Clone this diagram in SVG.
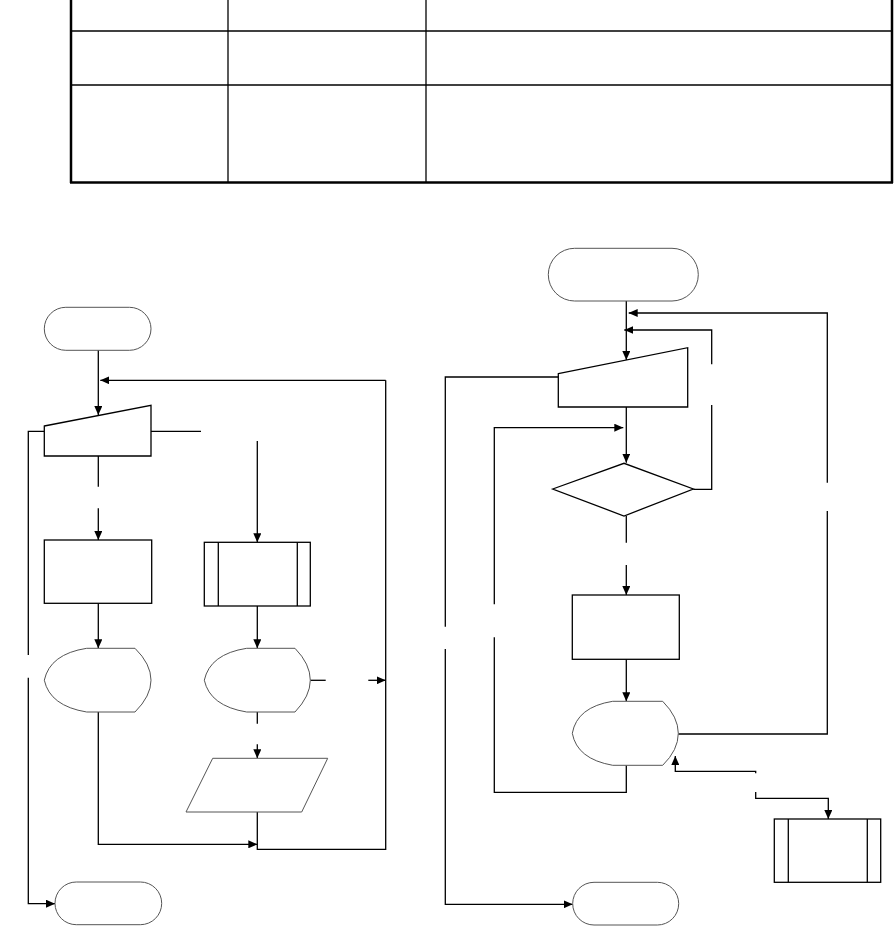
<svg xmlns="http://www.w3.org/2000/svg" width="895" height="926" viewBox="0 0 895 926">
<style>
.ln{fill:none;stroke:#000;stroke-width:1.3}
.arr{fill:none;stroke:#000;stroke-width:1.3;marker-end:url(#ah)}
.sh{fill:#fff;stroke:#000;stroke-width:1.3}
.sg{fill:#fff;stroke:#555;stroke-width:1}
.tb{fill:none;stroke:#000;stroke-width:1.3}
.tbo{fill:none;stroke:#000;stroke-width:2.5}
</style>
<defs>
<marker id="ah" markerUnits="userSpaceOnUse" markerWidth="9" markerHeight="8" refX="9" refY="4" orient="auto">
<path d="M0,0 L9,4 L0,8 z" fill="#000"/>
</marker>
</defs>
<rect width="895" height="926" fill="#fff"/>
<g id="table">
<line class="tb" x1="71" y1="31" x2="892" y2="31"/>
<line class="tb" x1="71" y1="85" x2="892" y2="85"/>
<line class="tb" x1="228" y1="0" x2="228" y2="182"/>
<line class="tb" x1="426" y1="0" x2="426" y2="182"/>
<line class="tbo" x1="71" y1="0" x2="71" y2="183"/>
<line class="tbo" x1="892" y1="0" x2="892" y2="183"/>
<line class="tbo" x1="70" y1="182.5" x2="893" y2="182.5"/>
</g>
<g id="connectors">
<!-- left chart -->
<path class="arr" d="M98.3,350 V415"/>
<path class="arr" d="M385.7,380.3 H100.3"/>
<path class="ln" d="M385.7,380.3 V849.3 H257.3 V812"/>
<path class="ln" d="M44.3,431.3 H28.3 V655"/>
<path class="arr" d="M28.3,677.7 V903.7 H55"/>
<path class="ln" d="M151,431.3 H201"/>
<path class="arr" d="M257.3,441 V542.3"/>
<path class="ln" d="M98.3,456 V486.7"/>
<path class="arr" d="M98.3,508.3 V540"/>
<path class="arr" d="M98.3,603.3 V648.3"/>
<path class="arr" d="M257.3,606 V648.3"/>
<path class="ln" d="M310.3,680.3 H325.7"/>
<path class="arr" d="M368.3,680.3 H385.7"/>
<path class="ln" d="M257.3,712 V723.7"/>
<path class="arr" d="M257.3,744.3 V758.3"/>
<path class="arr" d="M98.3,712 V844.3 H257.3"/>
<!-- right chart -->
<path class="arr" d="M626.3,301 V360"/>
<path class="arr" d="M827.3,482.7 V313 H628.7"/>
<path class="ln" d="M827.3,511 V734 H678.3"/>
<path class="arr" d="M711.7,364.3 V330 H624.3"/>
<path class="ln" d="M693.3,489.3 H711.7 V405"/>
<path class="ln" d="M558.3,377 H445.3 V626.7"/>
<path class="arr" d="M445.3,649 V904.3 H572.7"/>
<path class="arr" d="M626.3,407 V462.7"/>
<path class="arr" d="M494.3,604.3 V427.7 H623.3"/>
<path class="ln" d="M494.3,637.3 V792.3 H626.3 V765.3"/>
<path class="ln" d="M626.3,516 V542.7"/>
<path class="arr" d="M626.3,565 V595"/>
<path class="arr" d="M626.3,659.3 V701.3"/>
<path class="arr" d="M755.7,773.3 V771.3 H675.3 V756"/>
<path class="arr" d="M755.7,792 V798.3 H828.3 V819"/>
</g>
<g id="start-left"><rect class="sg" x="44.3" y="307.3" width="106.7" height="43" rx="21.5"/></g>
<g id="input-left"><polygon class="sh" points="44.3,426 151,405.3 151,456 44.3,456"/></g>
<g id="process-left"><rect class="sh" x="44.3" y="540" width="107.4" height="63.3"/></g>
<g id="subroutine-left"><rect class="sh" x="204.3" y="542.3" width="106" height="63.7"/><line class="ln" x1="218.3" y1="542.3" x2="218.3" y2="606"/><line class="ln" x1="297.3" y1="542.3" x2="297.3" y2="606"/></g>
<g id="display-left-1"><path class="sg" d="M86.7,648.3 H135 Q151,664 151,680.2 Q151,696 135,712 H86.7 Q50,706 44.3,680.2 Q50,654 86.7,648.3 Z"/></g>
<g id="display-left-2"><path class="sg" d="M246.7,648.3 H295 Q310.3,664 310.3,680.2 Q310.3,696 295,712 H246.7 Q210,706 204.3,680.2 Q210,654 246.7,648.3 Z"/></g>
<g id="data-left"><polygon class="sg" points="212.7,758.3 327.7,758.3 301.7,812 186,812"/></g>
<g id="end-left"><rect class="sg" x="55" y="882" width="106.7" height="42.7" rx="21.3"/></g>
<g id="start-right"><rect class="sg" x="548.3" y="248.3" width="150" height="52.7" rx="26.3"/></g>
<g id="input-right"><polygon class="sh" points="558.3,373.7 687.7,347.7 687.7,407 558.3,407"/></g>
<g id="decision-right"><polygon class="sh" points="552.7,489 624,463.3 693.3,489 624,516"/></g>
<g id="process-right"><rect class="sh" x="572.3" y="595" width="107" height="64.3"/></g>
<g id="display-right"><path class="sg" d="M612.7,701.3 H662.7 Q678.3,717 678.3,733.3 Q678.3,750 662.7,765.3 H612.7 Q577,759 572.3,733.3 Q577,707 612.7,701.3 Z"/></g>
<g id="subroutine-right"><rect class="sh" x="774.3" y="819" width="106.4" height="63.3"/><line class="ln" x1="788.3" y1="819" x2="788.3" y2="882.3"/><line class="ln" x1="867.3" y1="819" x2="867.3" y2="882.3"/></g>
<g id="end-right"><rect class="sg" x="572.7" y="882.3" width="106" height="42.7" rx="21.3"/></g>
</svg>
